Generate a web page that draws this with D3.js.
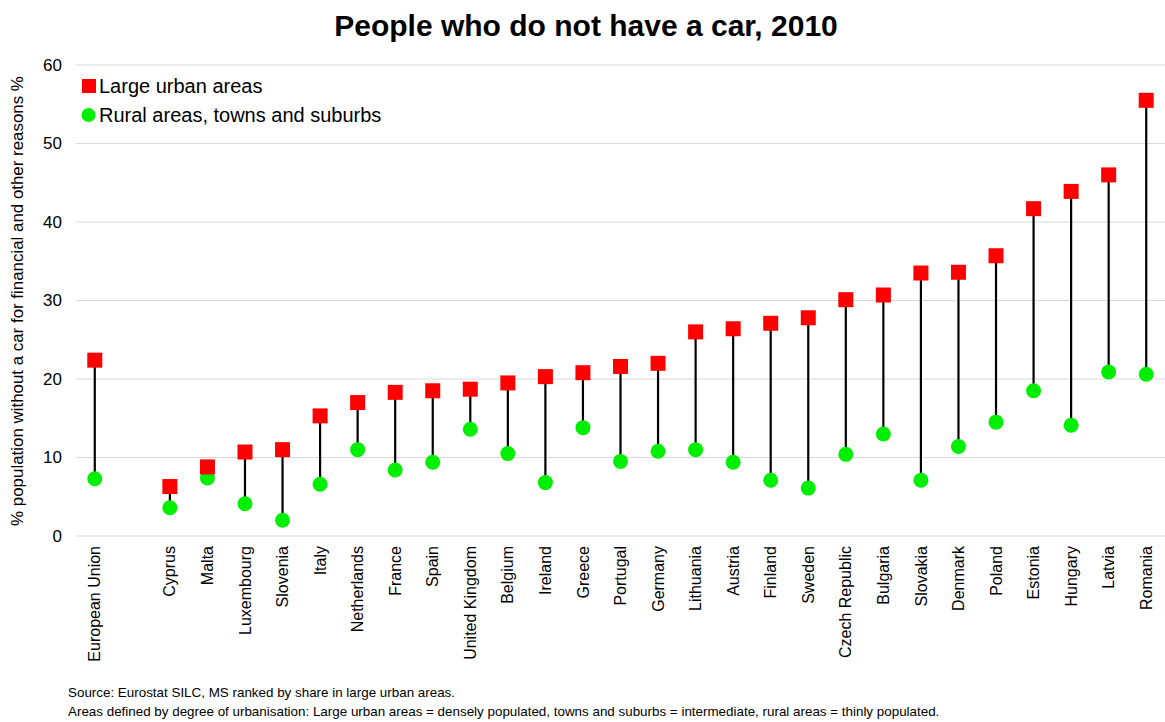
<!DOCTYPE html>
<html>
<head>
<meta charset="utf-8">
<script src="https://cdn.jsdelivr.net/npm/d3@7"></script>
<style>
  body { margin: 0; background: #fff; }
  svg { font-family: "Liberation Sans", Arial, sans-serif; display: block; }
</style>
</head>
<body>
<svg id="chart" width="1165" height="722"></svg>
<script>
const categories = ["European Union", "", "Cyprus", "Malta", "Luxembourg", "Slovenia", "Italy", "Netherlands", "France", "Spain", "United Kingdom", "Belgium", "Ireland", "Greece", "Portugal", "Germany", "Lithuania", "Austria", "Finland", "Sweden", "Czech Republic", "Bulgaria", "Slovakia", "Denmark", "Poland", "Estonia", "Hungary", "Latvia", "Romania"];
const urban = [22.4, null, 6.3, 8.8, 10.7, 11.0, 15.3, 17.0, 18.3, 18.5, 18.7, 19.5, 20.3, 20.8, 21.6, 22.0, 26.0, 26.4, 27.1, 27.8, 30.1, 30.7, 33.5, 33.6, 35.7, 41.7, 43.9, 46.0, 55.5];
const rural = [7.3, null, 3.6, 7.4, 4.1, 2.0, 6.6, 11.0, 8.4, 9.4, 13.6, 10.5, 6.8, 13.8, 9.5, 10.8, 11.0, 9.4, 7.1, 6.1, 10.4, 13.0, 7.1, 11.4, 14.5, 18.5, 14.1, 20.9, 20.6];
const yTicks = [0, 10, 20, 30, 40, 50, 60];
const seriesNames = ["Large urban areas", "Rural areas, towns and suburbs"];
const title = "People who do not have a car, 2010";
const yTitle = "% population without a car for financial and other reasons %";
const notes = ["Source: Eurostat SILC, MS ranked by share in large urban areas.",
  "Areas defined by degree of urbanisation: Large urban areas = densely populated, towns and suburbs = intermediate, rural areas = thinly populated."];

const svg = d3.select("#chart");
const margin = {left: 76, right: 0};
const W = 1165;

const keys = categories.map((c, i) => c === "" ? "__gap" + i : c);
const x = d3.scaleBand().domain(keys).range([margin.left, W - margin.right]).padding(0);
const y = d3.scaleLinear().domain([0, 60]).range([536, 65]);

const data = keys.map((k, i) => ({key: k, label: categories[i], u: urban[i], r: rural[i]}))
  .filter(d => d.u !== null);

// grid
svg.append("g").selectAll("line").data(yTicks).join("line")
  .attr("x1", margin.left).attr("x2", W)
  .attr("y1", d => y(d)).attr("y2", d => y(d))
  .attr("stroke", "#d9d9d9").attr("stroke-width", 1);

// y axis labels
const yAxis = d3.axisLeft(y).tickValues(yTicks).tickSize(0).tickPadding(0);
const yg = svg.append("g").attr("transform", `translate(62,0)`).call(yAxis);
yg.select(".domain").remove();
yg.selectAll("text").attr("font-size", 17).attr("fill", "#000")
  .attr("font-family", "Liberation Sans, Arial, sans-serif");

// x axis labels
const xAxis = d3.axisBottom(x).tickSize(0).tickFormat(k => k.startsWith("__gap") ? "" : k);
const xg = svg.append("g").attr("transform", `translate(0,546)`).call(xAxis);
xg.select(".domain").remove();
xg.selectAll("text")
  .attr("font-size", 16).attr("fill", "#000")
  .attr("font-family", "Liberation Sans, Arial, sans-serif")
  .attr("transform", "rotate(-90)")
  .attr("text-anchor", "end")
  .attr("x", 0).attr("y", 0).attr("dy", "0.35em");

const cx = d => x(d.key) + x.bandwidth() / 2;

// stems
svg.append("g").selectAll("line").data(data).join("line")
  .attr("x1", cx).attr("x2", cx)
  .attr("y1", d => y(d.u)).attr("y2", d => y(d.r))
  .attr("stroke", "#000").attr("stroke-width", 2.2);

// rural circles
svg.append("g").selectAll("circle").data(data).join("circle")
  .attr("cx", cx).attr("cy", d => y(d.r)).attr("r", 7.5)
  .attr("fill", "#00ee00");

// urban squares
const sq = 15;
svg.append("g").selectAll("rect").data(data).join("rect")
  .attr("x", d => cx(d) - sq / 2).attr("y", d => y(d.u) - sq / 2)
  .attr("width", sq).attr("height", sq)
  .attr("fill", "#ff0000");

// legend
const lg = svg.append("g");
lg.append("rect").attr("x", 82).attr("y", 79).attr("width", 14).attr("height", 14).attr("fill", "#ff0000");
lg.append("text").attr("x", 99).attr("y", 93).attr("font-size", 20).text(seriesNames[0]);
lg.append("circle").attr("cx", 88.5).attr("cy", 115).attr("r", 7).attr("fill", "#00ee00");
lg.append("text").attr("x", 99).attr("y", 121.5).attr("font-size", 20).text(seriesNames[1]);

// title
svg.append("text").attr("x", 586).attr("y", 36).attr("text-anchor", "middle")
  .attr("font-size", 30).attr("font-weight", "bold").text(title);

// y title
svg.append("text").attr("transform", `translate(23,301) rotate(-90)`)
  .attr("text-anchor", "middle").attr("font-size", 16.9).text(yTitle);

// notes
svg.append("g").selectAll("text").data(notes).join("text")
  .attr("x", 68).attr("y", (d, i) => 697 + i * 19)
  .attr("font-size", 13.4).text(d => d);
</script>
</body>
</html>
